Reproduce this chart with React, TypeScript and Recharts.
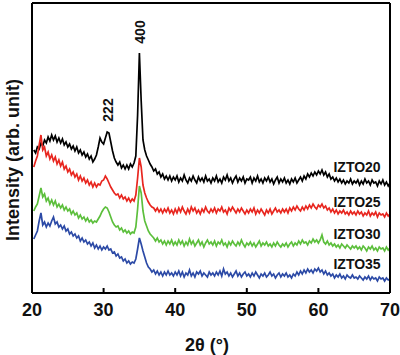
import { Line, LineChart, ReferenceDot, XAxis, YAxis } from 'recharts'

// XRD scan: start angle + fixed step, like the raw diffractometer file
const startAngle = 20.25
const stepAngle = 0.25

const angleTicks = [20, 30, 40, 50, 60, 70]

// intensity (arb. unit), stacked with offsets as in the figure
const izto20 = [
  143, 140, 146, 144, 150, 147, 153, 150, 156, 152, 158, 153, 157, 151, 155, 150, 154, 148, 151, 146,
  149, 144, 147, 142, 146, 140, 143, 138, 141, 136, 139, 134, 137, 131, 134, 138, 146, 155, 151, 149,
  155, 161, 160, 151, 142, 135, 131, 128, 131, 125, 128, 124, 128, 124, 129, 126, 130, 137, 178, 240,
  192, 153, 143, 137, 133, 129, 126, 122, 124, 119, 121, 116, 119, 114, 117, 113, 117, 112, 116, 113,
  117, 111, 115, 112, 118, 113, 110, 115, 112, 117, 113, 110, 116, 112, 115, 111, 117, 112, 114, 110,
  115, 112, 117, 111, 114, 110, 116, 113, 118, 112, 115, 110, 114, 117, 111, 115, 112, 116, 110, 114,
  113, 116, 110, 115, 112, 117, 111, 114, 110, 115, 112, 116, 111, 114, 109, 113, 116, 110, 114, 111,
  115, 110, 113, 109, 114, 111, 115, 110, 113, 116, 112, 117, 114, 119, 116, 120, 117, 121, 118, 122,
  119, 123, 118, 121, 116, 119, 114, 116, 112, 115, 111, 114, 110, 113, 109, 112, 110, 114, 109, 112,
  110, 113, 108, 112, 109, 114, 110, 112, 108, 113, 110, 111, 107, 112, 109, 113, 108, 111, 107, 110
]

const izto25 = [
  126, 132, 137, 148, 158, 143, 146, 137, 141, 134, 138, 132, 136, 129, 133, 127, 131, 124, 127, 121,
  124, 118, 121, 116, 119, 113, 117, 112, 115, 110, 113, 108, 111, 106, 110, 106, 109, 108, 112, 113,
  117, 114, 110, 106, 103, 100, 98, 99, 95, 98, 94, 96, 92, 95, 91, 94, 92, 98, 115, 135,
  126, 108, 100, 95, 91, 88, 86, 85, 82, 85, 81, 84, 80, 84, 81, 85, 80, 83, 79, 84,
  80, 85, 81, 86, 82, 79, 84, 80, 86, 82, 85, 80, 83, 79, 84, 81, 86, 82, 80, 84,
  81, 85, 80, 84, 82, 86, 81, 83, 79, 85, 82, 86, 83, 80, 84, 81, 85, 82, 79, 83,
  80, 84, 81, 85, 79, 83, 80, 84, 81, 78, 83, 80, 84, 79, 82, 85, 81, 83, 80, 84,
  81, 84, 80, 85, 82, 86, 83, 87, 84, 82, 86, 83, 87, 84, 88, 85, 89, 86, 84, 88,
  86, 89, 85, 87, 83, 85, 81, 84, 80, 83, 79, 82, 80, 83, 79, 81, 78, 82, 79, 81,
  78, 82, 79, 81, 77, 80, 78, 82, 77, 80, 78, 81, 76, 80, 78, 79, 76, 80, 77, 79
]

const izto30 = [
  82, 86, 89, 97, 105, 96, 99, 92, 95, 89, 93, 88, 92, 86, 89, 85, 88, 83, 86, 82,
  84, 79, 82, 78, 80, 75, 78, 74, 76, 72, 75, 71, 73, 70, 72, 71, 74, 77, 81, 84,
  86, 85, 81, 76, 71, 68, 66, 67, 63, 65, 61, 63, 60, 62, 59, 61, 60, 66, 84, 107,
  100, 82, 72, 67, 62, 59, 57, 55, 52, 55, 51, 53, 49, 52, 48, 52, 49, 53, 48, 51,
  48, 53, 49, 52, 47, 51, 48, 54, 49, 52, 47, 50, 53, 48, 51, 46, 50, 53, 49, 51,
  48, 52, 47, 51, 49, 53, 48, 50, 46, 51, 48, 52, 49, 47, 51, 48, 53, 49, 46, 50,
  48, 51, 47, 50, 46, 49, 52, 47, 50, 48, 51, 47, 49, 46, 50, 47, 51, 48, 46, 49,
  47, 50, 46, 49, 51, 47, 50, 48, 52, 49, 53, 50, 51, 48, 52, 50, 54, 51, 53, 50,
  53, 58, 51, 49, 52, 48, 50, 47, 49, 46, 48, 45, 49, 47, 45, 48, 46, 44, 47, 45,
  47, 44, 46, 43, 47, 45, 42, 46, 44, 47, 43, 45, 42, 46, 44, 45, 42, 46, 43, 45
]

const izto35 = [
  54, 58, 62, 72, 80, 68, 71, 66, 70, 67, 72, 76, 69, 71, 66, 68, 64, 67, 62, 64,
  59, 61, 57, 59, 55, 57, 52, 55, 51, 53, 49, 51, 47, 50, 45, 48, 44, 47, 43, 46,
  44, 47, 43, 44, 40, 41, 37, 39, 35, 36, 32, 34, 30, 32, 29, 31, 30, 34, 44, 55,
  49, 42, 36, 30, 26, 24, 21, 23, 19, 22, 18, 21, 17, 21, 18, 22, 18, 20, 17, 21,
  18, 22, 17, 21, 16, 20, 18, 23, 17, 20, 16, 21, 19, 22, 17, 20, 18, 16, 21, 18,
  20, 17, 21, 18, 22, 17, 24, 19, 21, 17, 20, 16, 19, 22, 17, 20, 16, 19, 21, 17,
  19, 16, 20, 17, 21, 18, 15, 19, 17, 20, 16, 18, 21, 17, 19, 15, 18, 20, 16, 19,
  17, 20, 16, 18, 15, 19, 17, 21, 18, 22, 19, 23, 20, 24, 21, 23, 20, 24, 22, 25,
  21, 23, 19, 22, 18, 20, 17, 19, 15, 18, 16, 19, 15, 17, 14, 18, 16, 15, 18, 15,
  16, 14, 17, 15, 13, 16, 14, 17, 13, 16, 14, 15, 12, 16, 14, 15, 12, 15, 13, 14
]

const sampleNames = ['IZTO20', 'IZTO25', 'IZTO30', 'IZTO35']
const sampleColors = ['#000000', '#e8261f', '#5cbf3c', '#2c4aa6']
// where each sample name sits (2θ, intensity)
const sampleTagAngles = [65.4, 65.4, 65.4, 65.4]
const sampleTagLevels = [126, 91, 59, 29]

const peakNames = ['222', '400']
const peakAngles = [30.6, 35.1]
const peakLevels = [183, 261]

const data = izto20.map((v, i) => ({
  angle: startAngle + i * stepAngle,
  izto20: v,
  izto25: izto25[i],
  izto30: izto30[i],
  izto35: izto35[i]
}))

const seriesKeys = ['izto20', 'izto25', 'izto30', 'izto35']

const font = '"Liberation Sans", Arial, sans-serif'

const renderTag = (text: string, rotate: boolean) => (props: any) => {
  const vb = props.viewBox || {}
  const cx = (vb.x ?? 0) + (vb.width ?? 0) / 2
  const cy = (vb.y ?? 0) + (vb.height ?? 0) / 2
  return (
    <text
      x={cx}
      y={cy}
      textAnchor="middle"
      dominantBaseline="central"
      fontFamily={font}
      fontWeight="bold"
      fontSize={14}
      fill="#111"
      transform={rotate ? `rotate(-90 ${cx} ${cy})` : undefined}
    >
      {text}
    </text>
  )
}

const AngleTick = (props: any) => {
  const { x, y, payload } = props
  return (
    <g>
      <line x1={x} x2={x} y1={y} y2={y - 5} stroke="#000" strokeWidth={2} />
      <text
        x={x}
        y={y + 17}
        textAnchor="middle"
        dominantBaseline="central"
        fontFamily={font}
        fontWeight="bold"
        fontSize={18}
        fill="#111"
      >
        {payload.value}
      </text>
    </g>
  )
}

export default function App() {
  return (
    <div style={{ position: 'absolute', left: 0, top: 0, width: 400, height: 355, background: '#fff' }}>
      <LineChart width={400} height={355} data={data} margin={{ top: 0, right: 0, bottom: 0, left: 0 }}>
        <XAxis
          dataKey="angle"
          type="number"
          domain={[20, 70]}
          ticks={angleTicks}
          height={62}
          tickSize={0}
          tickMargin={0}
          tickLine={false}
          tick={<AngleTick />}
          axisLine={{ stroke: '#000', strokeWidth: 2 }}
          label={{
            content: () => (
              <text x={207} y={345} textAnchor="middle" dominantBaseline="central" fontFamily={font} fontWeight="bold" fontSize={18} fill="#111">
                2θ (°)
              </text>
            )
          }}
        />
        <XAxis
          xAxisId="top"
          orientation="top"
          dataKey="angle"
          type="number"
          domain={[20, 70]}
          height={3}
          tick={false}
          tickLine={false}
          axisLine={{ stroke: '#000', strokeWidth: 2 }}
        />
        <YAxis
          type="number"
          domain={[0, 290]}
          width={32}
          tick={false}
          tickLine={false}
          allowDataOverflow
          axisLine={{ stroke: '#000', strokeWidth: 2 }}
          label={{
            content: () => (
              <text x={13} y={160} textAnchor="middle" dominantBaseline="central" fontFamily={font} fontWeight="bold" fontSize={18} fill="#111" transform="rotate(-90 13 160)">
                Intensity (arb. unit)
              </text>
            )
          }}
        />
        <YAxis
          yAxisId="right"
          orientation="right"
          type="number"
          domain={[0, 290]}
          width={10}
          tick={false}
          tickLine={false}
          axisLine={{ stroke: '#000', strokeWidth: 2 }}
        />
        {seriesKeys.map((k, i) => (
          <Line
            key={k}
            dataKey={k}
            type="linear"
            stroke={sampleColors[i]}
            strokeWidth={1.7}
            dot={false}
            isAnimationActive={false}
          />
        ))}
        {sampleNames.map((name, i) => (
          <ReferenceDot
            key={name}
            x={sampleTagAngles[i]}
            y={sampleTagLevels[i]}
            r={0}
            stroke="none"
            fill="none"
            label={renderTag(name, false)}
          />
        ))}
        {peakNames.map((name, i) => (
          <ReferenceDot
            key={name}
            x={peakAngles[i]}
            y={peakLevels[i]}
            r={0}
            stroke="none"
            fill="none"
            label={renderTag(name, true)}
          />
        ))}
      </LineChart>
    </div>
  )
}
